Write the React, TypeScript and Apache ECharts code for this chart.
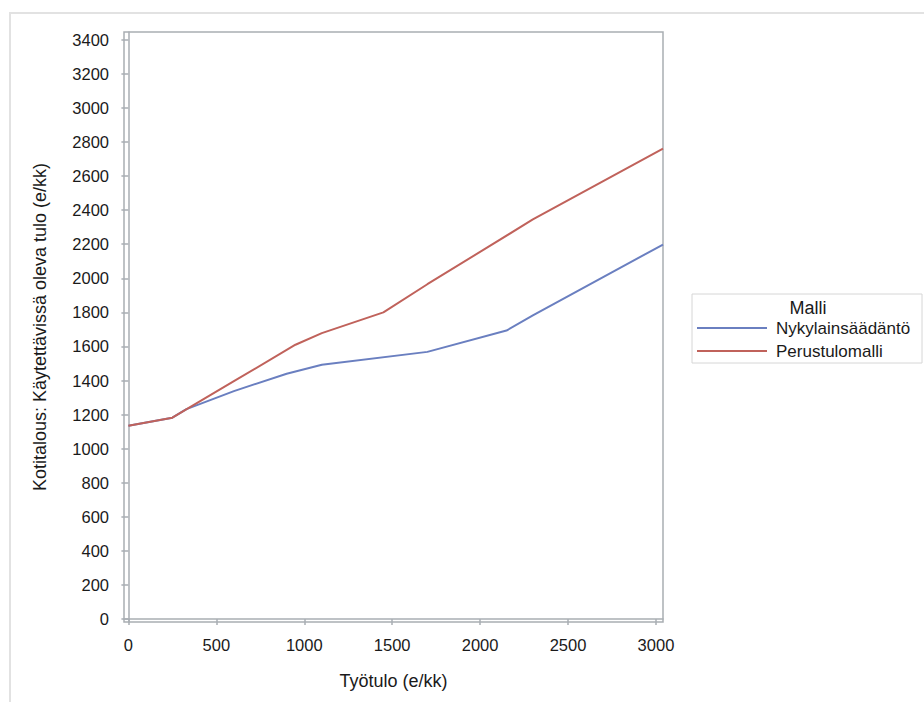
import React, { useEffect, useRef } from "react";
import * as echarts from "echarts";

const nykyX = [0, 250, 330, 600, 900, 1100, 1700, 2150, 2300, 3040];
const nykyY = [1135, 1182, 1232, 1338, 1440, 1492, 1568, 1693, 1782, 2198];
const perusX = [0, 250, 600, 950, 1100, 1450, 1700, 2300, 3040];
const perusY = [1135, 1182, 1396, 1610, 1678, 1800, 1965, 2345, 2760];
const yTicks = [0, 200, 400, 600, 800, 1000, 1200, 1400, 1600, 1800, 2000, 2200, 2400, 2600, 2800, 3000, 3200, 3400];
const xTicks = [0, 500, 1000, 1500, 2000, 2500, 3000];
const seriesNames = ["Nykylainsäädäntö", "Perustulomalli"];
const legendTitle = "Malli";
const xTitle = "Työtulo (e/kk)";
const yTitle = "Kotitalous: Käytettävissä oleva tulo (e/kk)";

const FONT = "'Liberation Sans', Arial, sans-serif";
const AXIS = "#a9aeb3";
const TEXT = "#1a1a1a";

export default function App() {
  const ref = useRef<HTMLDivElement>(null);
  useEffect(() => {
    if (!ref.current) return;
    const chart = echarts.init(ref.current, null, { renderer: "svg" });
    const zip = (xs: number[], ys: number[]) => xs.map((x, i) => [x, ys[i]]);
    const plain = (v: number) => String(v);
    chart.setOption({
      animation: false,
      backgroundColor: "#ffffff",
      textStyle: { fontFamily: FONT },
      grid: {
        left: 124,
        top: 32,
        right: 261,
        bottom: 80,
        show: true,
        borderColor: AXIS,
        borderWidth: 1.5,
        backgroundColor: "transparent",
      },
      xAxis: {
        type: "value",
        min: -25,
        max: 3040,
        name: xTitle,
        nameLocation: "middle",
        nameGap: 50,
        nameTextStyle: { fontSize: 18, color: TEXT, fontFamily: FONT },
        axisLine: { show: true, lineStyle: { color: AXIS, width: 1.5 } },
        axisTick: { show: true, length: 6, customValues: xTicks, lineStyle: { color: AXIS, width: 1.5 } },
        axisLabel: { customValues: xTicks, formatter: plain, fontSize: 16.5, color: TEXT, margin: 14, fontFamily: FONT },
        splitLine: { show: false },
      },
      yAxis: {
        type: "value",
        min: -17,
        max: 3445,
        name: yTitle,
        nameLocation: "middle",
        nameGap: 75,
        nameRotate: 90,
        nameTextStyle: { fontSize: 18, color: TEXT, fontFamily: FONT },
        axisLine: { show: true, lineStyle: { color: AXIS, width: 1.5 } },
        axisTick: { show: true, length: 7, customValues: yTicks, lineStyle: { color: AXIS, width: 1.5 } },
        axisLabel: { customValues: yTicks, formatter: plain, fontSize: 16.5, color: TEXT, margin: 15, fontFamily: FONT },
        splitLine: { show: false },
      },
      legend: {
        orient: "vertical",
        left: 697,
        top: 318,
        padding: 0,
        itemGap: 3,
        itemWidth: 70,
        itemHeight: 2,
        icon: "rect",
        data: seriesNames,
        textStyle: { fontSize: 17, color: TEXT, lineHeight: 20, fontFamily: FONT, padding: [0, 0, 0, 4] },
      },
      graphic: [
        {
          type: "rect",
          silent: true,
          z: -10,
          shape: { x: 10, y: 13, width: 1000, height: 1000 },
          style: { fill: "none", stroke: "#e2e2e2", lineWidth: 2 },
        },
        {
          type: "rect",
          silent: true,
          z: -1,
          shape: { x: 692, y: 294, width: 230, height: 69 },
          style: { fill: "#ffffff", stroke: "#d6d6d6", lineWidth: 1 },
        },
        {
          type: "text",
          silent: true,
          x: 808,
          y: 308,
          style: {
            text: legendTitle,
            fontSize: 18,
            fontFamily: FONT,
            fill: TEXT,
            align: "center",
            verticalAlign: "middle",
          },
        },
      ],
      series: [
        {
          name: seriesNames[0],
          type: "line",
          data: zip(nykyX, nykyY),
          showSymbol: false,
          color: "#6a7fc0",
          lineStyle: { width: 2, color: "#6a7fc0" },
          z: 2,
        },
        {
          name: seriesNames[1],
          type: "line",
          data: zip(perusX, perusY),
          showSymbol: false,
          color: "#c0625b",
          lineStyle: { width: 2, color: "#c0625b" },
          z: 3,
        },
      ],
    });
    return () => chart.dispose();
  }, []);
  return (
    <div
      ref={ref}
      style={{ position: "fixed", left: 0, top: 0, width: 924, height: 702, background: "#fff" }}
    />
  );
}
